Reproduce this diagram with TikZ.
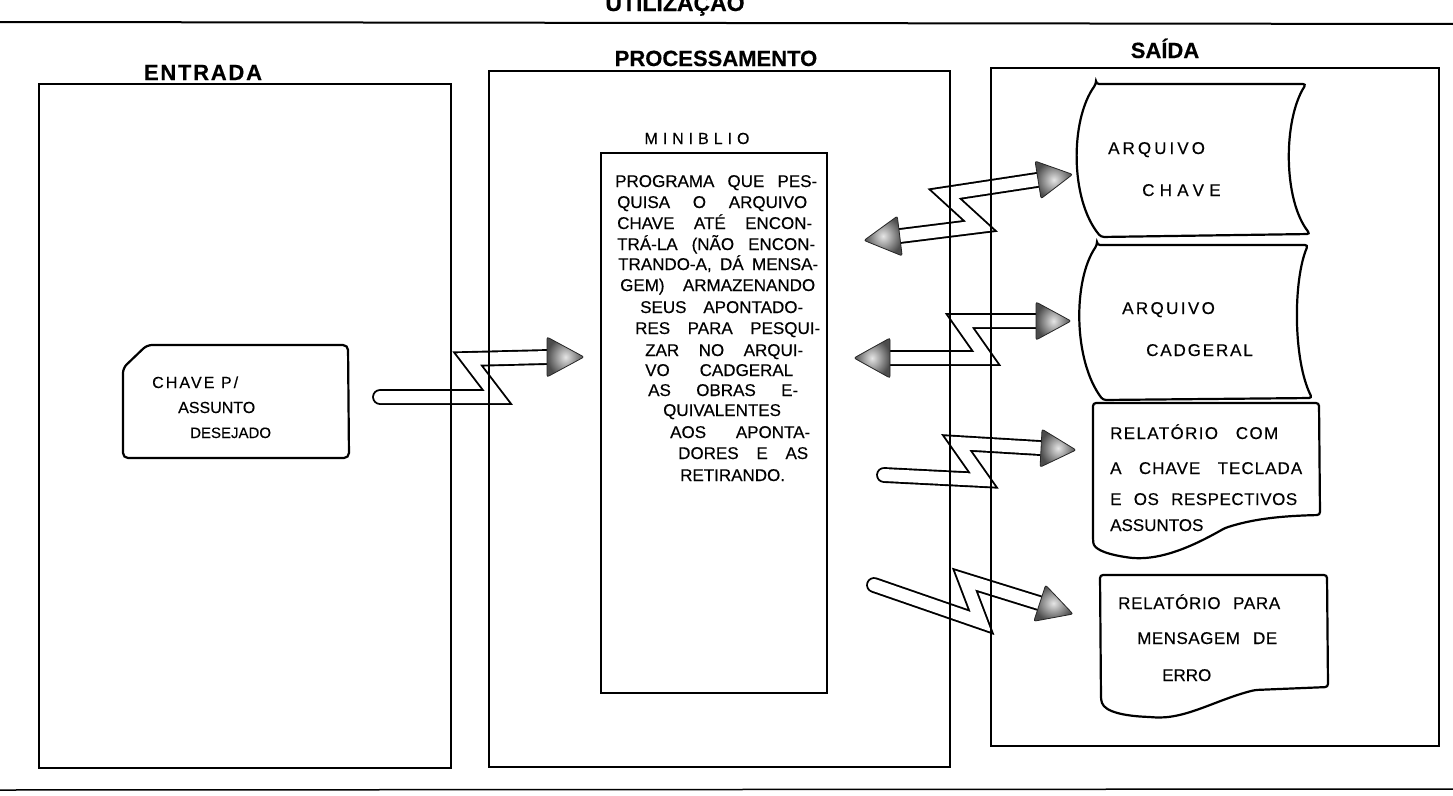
\documentclass[tikz,border=0pt]{standalone}
\usepackage{fontspec}
\setmainfont{Liberation Sans}[FakeBold=0.35]
\usetikzlibrary{backgrounds}
\newcommand{\lsp}[2]{{\addfontfeature{LetterSpace=#1}#2}}
\begin{document}
\begin{tikzpicture}[x=1pt,y=-1pt,
  frame/.style={draw, line width=2.2pt},
  tube/.style={draw=black, line width=1.9pt, double=white, double distance=12pt, line join=miter, line cap=round},
  head/.style={inner color=gray!20, outer color=gray!60!black, draw=gray!30!black, line width=0.8pt, rounded corners=2pt},
  body/.style={font=\fontsize{17}{20}\selectfont, inner sep=0pt, anchor=base west},
  card/.style={font=\fontsize{16}{19}\selectfont, inner sep=0pt, anchor=base west},
  hdr/.style={font=\fontsize{22}{26}\selectfont\bfseries, inner sep=0pt, anchor=base},
]
\useasboundingbox (0,0) rectangle (1453,795);

% rules of the page
\coordinate (r1) at (0,22); \coordinate (r2) at (1453,24);
\coordinate (r3) at (0,790); \coordinate (r4) at (1453,789);
\draw[line width=2pt] (r1) -- (r2);
\draw[line width=1.5pt] (r3) -- (r4);
\node[hdr, font=\fontsize{23}{28}\selectfont\bfseries] (titulo) at (675,11) {UTILIZAÇÃO};

% big boxes
\node[frame, minimum width=412pt, minimum height=684pt, anchor=north west, inner sep=0pt] (entrada) at (38,83) {};
\node[frame, minimum width=461pt, minimum height=696pt, anchor=north west, inner sep=0pt] (proc) at (488,70) {};
\node[frame, minimum width=448pt, minimum height=678pt, anchor=north west, inner sep=0pt] (saida) at (990,67) {};

\node[hdr] (hE) at (203,80) {\lsp{8}{ENTRADA}};
\node[hdr] (hP) at (716,66) {PROCESSAMENTO};
\node[hdr] (hS) at (1165,58) {SAÍDA};

% card
\draw[line width=2.2pt, rounded corners=5pt] (147,345) -- (348,345) -- (349,458) -- (123,458) -- (123,368) -- cycle;
\node[card] (c1) at (152,388) {\lsp{13}{CHAVE P/}};
\node[card] (c2) at (178,413) {ASSUNTO};
\node[card, font=\fontsize{15}{18}\selectfont] (c3) at (190,438) {DESEJADO};

% MINIBLIO
\node[frame, minimum width=226pt, minimum height=540pt, anchor=north west, inner sep=0pt] (mini) at (600,152) {};
\node[card, anchor=base] (mlabel) at (697,144) {\lsp{31}{MINIBLIO}};
\node[body] (m1) at (615,187) {\makebox[202pt][s]{PROGRAMA QUE PES-}};
\node[body] (m2) at (617,208) {\makebox[190pt][s]{QUISA O ARQUIVO}};
\node[body] (m3) at (617,229) {\makebox[195pt][s]{CHAVE ATÉ ENCON-}};
\node[body] (m4) at (617,250) {\makebox[198pt][s]{TRÁ-LA (NÃO ENCON-}};
\node[body] (m5) at (618,270) {\makebox[200pt][s]{TRANDO-A, DÁ MENSA-}};
\node[body] (m6) at (620,291) {\makebox[195pt][s]{GEM) ARMAZENANDO}};
\node[body] (m7) at (640,313) {\makebox[163pt][s]{SEUS APONTADO-}};
\node[body] (m8) at (635,334) {\makebox[185pt][s]{RES PARA PESQUI-}};
\node[body] (m9) at (645,356) {\makebox[158pt][s]{ZAR NO ARQUI-}};
\node[body] (m10) at (645,376) {\makebox[148pt][s]{VO CADGERAL}};
\node[body] (m11) at (648,396) {\makebox[150pt][s]{AS OBRAS E-}};
\node[body] (m12) at (663,416) {QUIVALENTES};
\node[body] (m13) at (670,438) {\makebox[140pt][s]{AOS APONTA-}};
\node[body] (m14) at (678,459) {\makebox[130pt][s]{DORES E AS}};
\node[body] (m15) at (680,481) {RETIRANDO.};

% SAIDA shapes
\draw[line width=2.2pt, rounded corners=3pt] (1096,84) -- (1306,84) .. controls (1283,120) and (1283,200) .. (1310,234) -- (1101,237) .. controls (1070,200) and (1070,120) .. cycle;
\node[body] (k1) at (1108,154) {\lsp{18}{ARQUIVO}};
\node[body] (k2) at (1142,196) {\lsp{31}{CHAVE}};

\draw[line width=2.2pt, rounded corners=3pt] (1097,245) -- (1308,245) .. controls (1293,280) and (1293,360) .. (1312,398) -- (1103,400) .. controls (1073,360) and (1073,280) .. cycle;
\node[body] (g1) at (1122,314) {\lsp{14}{ARQUIVO}};
\node[body] (g2) at (1146,356) {\lsp{11}{CADGERAL}};

\draw[line width=2.2pt, rounded corners=3pt] (1093,403) -- (1319,403) -- (1320,515)
  .. controls (1275,516) and (1250,520) .. (1225,528)
  .. controls (1195,545) and (1160,562) .. (1125,557)
  .. controls (1102,553) and (1094,548) .. (1093,540) -- cycle;
\node[body] (t1) at (1110,439) {\makebox[168pt][s]{\lsp{8}{RELATÓRIO COM}}};
\node[body] (t2) at (1110,474) {\makebox[192pt][s]{\lsp{6}{A CHAVE TECLADA}}};
\node[body] (t3) at (1110,505) {\makebox[187pt][s]{\lsp{3}{E OS RESPECTIVOS}}};
\node[body] (t4) at (1110,531) {ASSUNTOS};

\draw[line width=2.2pt, rounded corners=3pt] (1100,575) -- (1327,575) -- (1328,687) -- (1255,690)
  .. controls (1215,700) and (1185,720) .. (1150,717)
  .. controls (1125,716) and (1105,712) .. (1101,700) -- cycle;
\node[body] (e1) at (1118,609) {\makebox[162pt][s]{\lsp{4}{RELATÓRIO PARA}}};
\node[body] (e2) at (1137,644) {\makebox[140pt][s]{\lsp{3}{MENSAGEM DE}}};
\node[body] (e3) at (1162,681) {ERRO};

% connector coordinates
\coordinate (a1s) at (380,397); \coordinate (a1e) at (548,357); \coordinate (a1t) at (584,357);
\coordinate (a2s) at (900,236); \coordinate (a2e) at (1037,180); \coordinate (a2t) at (1072.6,174.4); \coordinate (a2u) at (864,240.4);
\coordinate (a3s) at (890,358); \coordinate (a3e) at (1036,321); \coordinate (a3t) at (1071,321); \coordinate (a3u) at (854,358);
\coordinate (a4s) at (884,475); \coordinate (a4e) at (1040,448); \coordinate (a4t) at (1076,450);
\coordinate (a5s) at (874,585); \coordinate (a5e) at (1039,603); \coordinate (a5t) at (1073,614);

\begin{scope}[on background layer]
\draw[tube] (a1s) -- (497,397) -- (468,359) -- (a1e);
\draw[tube] (a2s) -- (980,226) -- (945,194) -- (a2e);
\draw[tube] (a3s) -- (986,358) -- (960,321) -- (a3e);
\draw[tube] (a4s) -- (983,480) -- (957,443) -- (a4e);
\draw[tube] (a5s) -- (981,622) -- (965,580) -- (a5e);
\end{scope}

\shade[head, shift={(a1t)}] (0,0) -- (-37,-20) -- (-37,20) -- cycle;
\shade[head, shift={(a2t)}, rotate=9] (0,0) -- (-35,-19) -- (-35,19) -- cycle;
\shade[head, shift={(a2u)}, rotate=187] (0,0) -- (-36,-20) -- (-36,20) -- cycle;
\shade[head, shift={(a3t)}] (0,0) -- (-35,-19) -- (-35,19) -- cycle;
\shade[head, shift={(a3u)}, rotate=180] (0,0) -- (-36,-20) -- (-36,20) -- cycle;
\shade[head, shift={(a4t)}, rotate=-3] (0,0) -- (-35,-19) -- (-35,19) -- cycle;
\shade[head, shift={(a5t)}, rotate=-18] (0,0) -- (-35,-19) -- (-35,19) -- cycle;
\end{tikzpicture}
\end{document}
